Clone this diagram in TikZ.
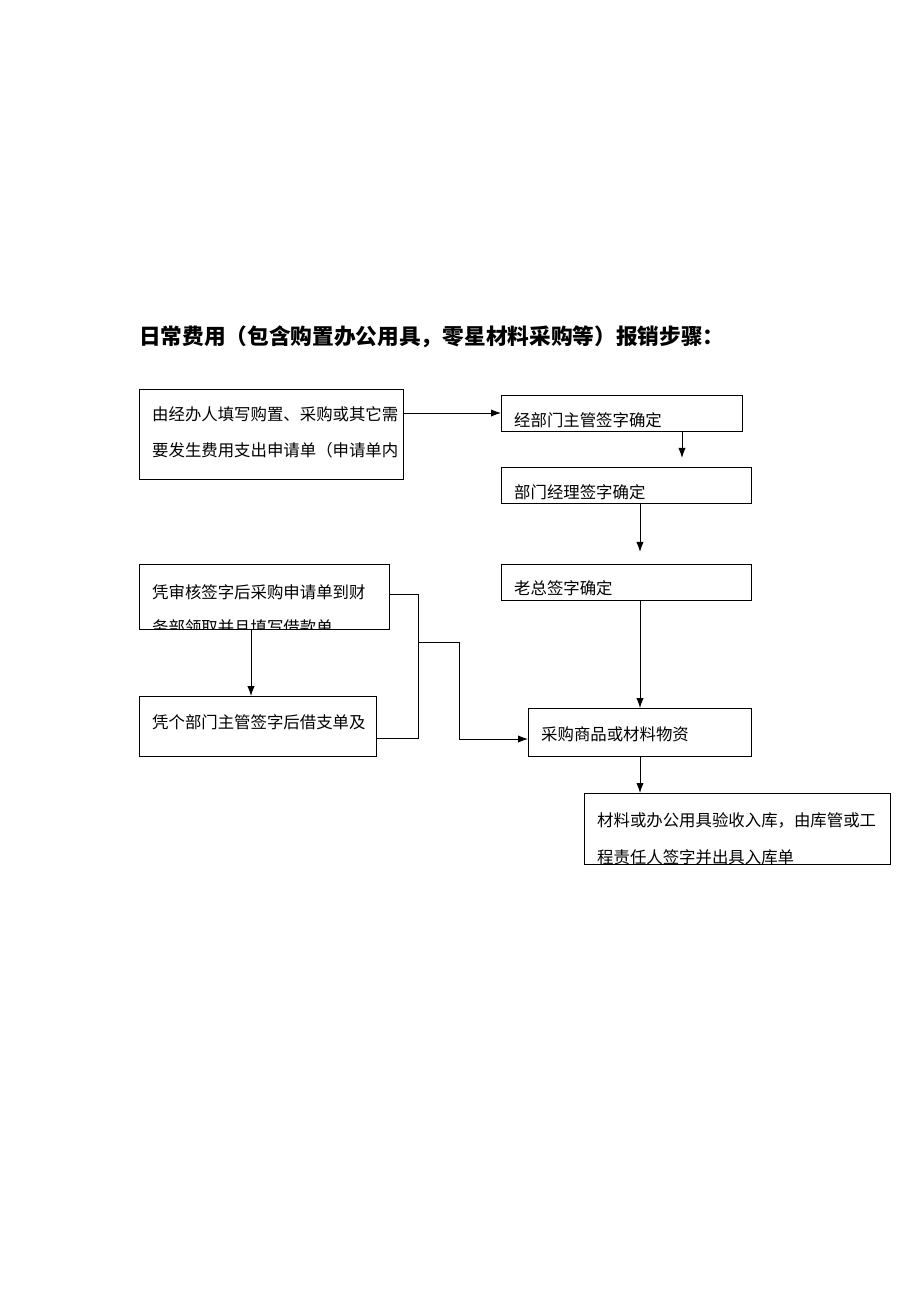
\documentclass[tikz,border=0pt]{standalone}
\usepackage{fontspec}
\setmainfont{Noto Sans CJK SC}
\usetikzlibrary{positioning,calc,arrows.meta}

\begin{document}
\begin{tikzpicture}[
    x=0.03cm, y=-0.03cm,
    flowbox/.style={draw, thick, inner sep=0pt, anchor=north west},
    txt/.style={anchor=west, inner sep=0pt, font=\fontsize{14}{14}\selectfont},
    flow/.style={draw, thick, -{Latex[length=3mm,width=2.2mm]}}
]
\useasboundingbox (0,0) rectangle (920,1302);

% Title
\node[anchor=west, inner sep=0pt, font=\fontsize{18.5}{18.5}\selectfont\bfseries] (title) at (139,337)
  {日常费用（包含购置办公用具，零星材料采购等）报销步骤：};

% Boxes
\node[flowbox, minimum width=7.92cm, minimum height=2.7cm] (apply) at (139,389) {};
\node[flowbox, minimum width=7.23cm, minimum height=1.08cm] (head) at (501,395) {};
\node[flowbox, minimum width=7.5cm, minimum height=1.08cm] (mgr) at (501,467) {};
\node[flowbox, minimum width=7.5cm, minimum height=1.08cm] (boss) at (501,564) {};
\node[flowbox, minimum width=7.5cm, minimum height=1.95cm] (fin) at (139,564) {};
\node[flowbox, minimum width=7.11cm, minimum height=1.8cm] (loan) at (139,696) {};
\node[flowbox, minimum width=6.69cm, minimum height=1.44cm] (buy) at (528,708) {};
\node[flowbox, minimum width=9.18cm, minimum height=2.13cm] (store) at (584,793) {};

% Texts
\node[txt] (t1) at (152,414) {由经办人填写购置、采购或其它需};
\node[txt] (t2) at (152,450) {要发生费用支出申请单（申请单内};
\node[txt] (t3) at (514,420) {经部门主管签字确定};
\node[txt] (t4) at (514,492) {部门经理签字确定};
\node[txt] (t5) at (514,588) {老总签字确定};
\node[txt] (t6) at (152,592) {凭审核签字后采购申请单到财};
\begin{scope}
  \clip (fin.north west) rectangle (fin.south east);
  \node[txt] (t7) at (152,627) {务部领取并且填写借款单};
\end{scope}
\node[txt] (t8) at (152,722) {凭个部门主管签字后借支单及};
\node[txt] (t9) at (541,734) {采购商品或材料物资};
\node[txt] (t10) at (597,820) {材料或办公用具验收入库，由库管或工};
\begin{scope}
  \clip (store.north west) rectangle (store.south east);
  \node[txt] (t11) at (597,857) {程责任人签字并出具入库单};
\end{scope}

% Junctions
\coordinate (j1) at (418,594);
\coordinate (j2) at (418,738);
\coordinate (j3) at (418,642);
\coordinate (j4) at (459,642);

% Connectors
\draw[flow] (apply.east |- 0,413) -- (head.west |- 0,413);
\draw[flow] (head.south -| 682,0) -- ++(0,26);
\draw[flow] (mgr.south -| 640,0) -- ++(0,48);
\draw[flow] (boss.south -| 640,0) -- (buy.north -| 640,0);
\draw[flow] (buy.south -| 640,0) -- (store.north -| 640,0);
\draw[flow] (fin.south -| 251,0) -- (loan.north -| 251,0);
\draw[thick] (fin.east |- j1) -- (j1) -- (j2) -- (loan.east |- j2);
\draw[flow] (j3) -- (j4) -- (j4 |- 0,739) -- (buy.west |- 0,739);

\end{tikzpicture}
\end{document}
